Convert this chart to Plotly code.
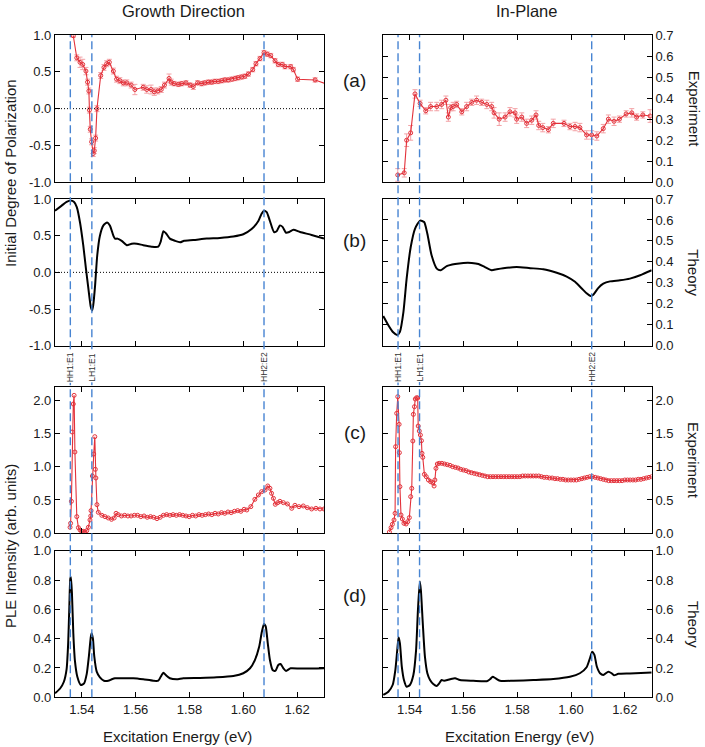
import plotly.graph_objects as go

# ---------------- data ----------------
transitions = [1.5357, 1.5437, 1.6077]
transition_labels = ["HH1:E1", "LH1:E1", "HH2:E2"]

x_ticks = [1.54, 1.56, 1.58, 1.60, 1.62]
x_tick_text = ["1.54", "1.56", "1.58", "1.60", "1.62"]

# (a) experiment, growth direction
ga_x = [1.5368, 1.5381, 1.5393, 1.5403, 1.5415, 1.5421, 1.5426, 1.5428, 1.5431, 1.5436,
        1.5442, 1.5446, 1.5451, 1.5456, 1.5470, 1.5482, 1.5492, 1.5502, 1.5517, 1.5529,
        1.5541, 1.5554, 1.5567, 1.5583, 1.5597, 1.5628, 1.5641, 1.5657, 1.5669, 1.5682,
        1.5695, 1.5707, 1.5724, 1.5732, 1.5743, 1.5759, 1.5771, 1.5787, 1.5802, 1.5814,
        1.5830, 1.5845, 1.5857, 1.5870, 1.5882, 1.5894, 1.5907, 1.5920, 1.5932, 1.5944,
        1.5957, 1.5970, 1.5981, 1.5994, 1.6006, 1.6019, 1.6035, 1.6047, 1.6062, 1.6077,
        1.6089, 1.6102, 1.6118, 1.6130, 1.6145, 1.6155, 1.6176, 1.6186, 1.6202, 1.6267, 1.6320]
ga_y = [0.99, 0.69, 0.63, 0.60, 0.51, 0.36, 0.24, -0.02, -0.28, -0.45,
        -0.61, -0.57, -0.40, 0.00, 0.45, 0.56, 0.61, 0.63, 0.51, 0.40,
        0.38, 0.35, 0.35, 0.32, 0.26, 0.29, 0.26, 0.26, 0.23, 0.24,
        0.26, 0.32, 0.41, 0.36, 0.34, 0.33, 0.34, 0.35, 0.32, 0.30,
        0.35, 0.34, 0.35, 0.36, 0.36, 0.37, 0.37, 0.38, 0.39, 0.39,
        0.40, 0.41, 0.42, 0.43, 0.44, 0.47, 0.53, 0.61, 0.68, 0.76,
        0.74, 0.72, 0.65, 0.60, 0.60, 0.57, 0.57, 0.53, 0.40, 0.39, 0.32]
ga_err = [0.02, 0.04, 0.07, 0.07, 0.05, 0.04, 0.04, 0.04, 0.04, 0.04,
          0.04, 0.04, 0.04, 0.04, 0.04, 0.04, 0.04, 0.04, 0.04, 0.04,
          0.04, 0.04, 0.04, 0.04, 0.07, 0.04, 0.05, 0.06, 0.05, 0.04,
          0.04, 0.04, 0.06, 0.04, 0.03, 0.03, 0.03, 0.03, 0.03, 0.04,
          0.03, 0.03, 0.03, 0.03, 0.03, 0.03, 0.03, 0.03, 0.03, 0.03,
          0.03, 0.03, 0.03, 0.03, 0.03, 0.03, 0.03, 0.03, 0.03, 0.03,
          0.03, 0.03, 0.03, 0.03, 0.03, 0.03, 0.03, 0.03, 0.03, 0.03, 0.03]

# (a) experiment, in-plane
pa_x = [1.5356, 1.5380, 1.5389, 1.5404, 1.5420, 1.5439, 1.5460, 1.5478, 1.5501, 1.5519,
        1.5535, 1.5544, 1.5553, 1.5562, 1.5575, 1.5594, 1.5612, 1.5631, 1.5649, 1.5668,
        1.5687, 1.5705, 1.5714, 1.5733, 1.5755, 1.5773, 1.5792, 1.5798, 1.5817, 1.5835,
        1.5854, 1.5870, 1.5880, 1.5895, 1.5916, 1.5934, 1.5974, 1.5996, 1.6015, 1.6033,
        1.6058, 1.6077, 1.6096, 1.6120, 1.6139, 1.6160, 1.6180, 1.6205, 1.6226, 1.6244,
        1.6267, 1.6294]
pa_y = [0.035, 0.045, 0.20, 0.235, 0.42, 0.375, 0.34, 0.36, 0.36, 0.37,
        0.39, 0.31, 0.355, 0.36, 0.37, 0.335, 0.36, 0.38, 0.39, 0.38,
        0.37, 0.36, 0.33, 0.30, 0.31, 0.335, 0.33, 0.30, 0.31, 0.28,
        0.295, 0.32, 0.27, 0.26, 0.25, 0.28, 0.28, 0.265, 0.265, 0.26,
        0.225, 0.225, 0.22, 0.255, 0.30, 0.29, 0.30, 0.325, 0.33, 0.31,
        0.32, 0.315]
pa_err = [0.03, 0.02, 0.03, 0.035, 0.02, 0.015, 0.015, 0.02, 0.02, 0.02,
          0.02, 0.02, 0.015, 0.02, 0.015, 0.015, 0.02, 0.015, 0.02, 0.015,
          0.02, 0.02, 0.025, 0.03, 0.02, 0.02, 0.02, 0.02, 0.02, 0.02,
          0.02, 0.02, 0.02, 0.02, 0.015, 0.02, 0.015, 0.015, 0.02, 0.02,
          0.02, 0.02, 0.02, 0.02, 0.02, 0.02, 0.015, 0.015, 0.02, 0.015,
          0.015, 0.03]

# (b) theory, growth direction
gb_x = [1.5300, 1.5325, 1.5343, 1.5358, 1.5371, 1.5381, 1.5393, 1.5405, 1.5415, 1.5424,
        1.5433, 1.5438, 1.5442, 1.5449, 1.5457, 1.5467, 1.5480, 1.5494, 1.5504, 1.5517,
        1.5523, 1.5532, 1.5548, 1.5567, 1.5585, 1.5604, 1.5628, 1.5659, 1.5684, 1.5693,
        1.5703, 1.5713, 1.5727, 1.5746, 1.5765, 1.5780, 1.5814, 1.5864, 1.5913, 1.5963,
        1.6000, 1.6031, 1.6056, 1.6068, 1.6077, 1.6087, 1.6099, 1.6114, 1.6124, 1.6136,
        1.6146, 1.6159, 1.6171, 1.6186, 1.6211, 1.6254, 1.6300]
gb_y = [0.84, 0.91, 0.96, 0.98, 0.96, 0.89, 0.68, 0.37, 0.05, -0.22,
        -0.47, -0.52, -0.45, -0.18, 0.23, 0.50, 0.64, 0.68, 0.64, 0.50,
        0.46, 0.46, 0.43, 0.37, 0.39, 0.39, 0.37, 0.35, 0.35, 0.42,
        0.56, 0.53, 0.46, 0.43, 0.41, 0.43, 0.44, 0.46, 0.47, 0.49,
        0.52, 0.59, 0.70, 0.80, 0.84, 0.82, 0.70, 0.55, 0.56, 0.64,
        0.62, 0.54, 0.55, 0.58, 0.55, 0.51, 0.46]

# (b) theory, in-plane
pb_x = [1.5302, 1.5321, 1.5339, 1.5354, 1.5364, 1.5377, 1.5389, 1.5404, 1.5420, 1.5439,
        1.5454, 1.5466, 1.5482, 1.5501, 1.5516, 1.5538, 1.5569, 1.5600, 1.5631, 1.5656,
        1.5680, 1.5705, 1.5724, 1.5748, 1.5798, 1.5848, 1.5897, 1.5947, 1.5984, 1.6015,
        1.6040, 1.6058, 1.6073, 1.6083, 1.6101, 1.6120, 1.6145, 1.6182, 1.6219, 1.6257, 1.6300]
pb_y = [0.142, 0.098, 0.064, 0.051, 0.066, 0.16, 0.32, 0.47, 0.558, 0.597,
        0.59, 0.534, 0.43, 0.368, 0.36, 0.38, 0.39, 0.395, 0.395, 0.39,
        0.375, 0.36, 0.365, 0.37, 0.375, 0.37, 0.365, 0.348, 0.33, 0.305,
        0.273, 0.25, 0.237, 0.243, 0.275, 0.296, 0.307, 0.312, 0.32, 0.336, 0.36]

# (c) PLE experiment, growth direction
gc_x = [1.5356, 1.5358, 1.5361, 1.5364, 1.5368, 1.5371, 1.5374, 1.5381, 1.5387, 1.5393,
        1.5399, 1.5405, 1.5411, 1.5418, 1.5424, 1.5430, 1.5433, 1.5434, 1.5439, 1.5444,
        1.5448, 1.5450, 1.5452, 1.5456, 1.5461, 1.5474, 1.5486, 1.5498, 1.5510, 1.5520,
        1.5527, 1.5535, 1.5547, 1.5559, 1.5571, 1.5583, 1.5595, 1.5607, 1.5619, 1.5631,
        1.5643, 1.5655, 1.5667, 1.5679, 1.5691, 1.5703, 1.5715, 1.5727, 1.5739, 1.5751,
        1.5763, 1.5775, 1.5787, 1.5799, 1.5811, 1.5823, 1.5835, 1.5847, 1.5859, 1.5871,
        1.5883, 1.5895, 1.5907, 1.5919, 1.5931, 1.5943, 1.5955, 1.5967, 1.5979, 1.5991,
        1.6003, 1.6013, 1.6028, 1.6043, 1.6056, 1.6068, 1.6081, 1.6091, 1.6099, 1.6105,
        1.6112, 1.6119, 1.6128, 1.6136, 1.6149, 1.6164, 1.6180, 1.6192, 1.6207, 1.6223,
        1.6238, 1.6254, 1.6270, 1.6285, 1.6300]
gc_y = [0.09, 0.15, 0.48, 1.52, 1.94, 2.07, 1.22, 0.25, 0.085, 0.05,
        0.03, 0.03, 0.02, 0.04, 0.09, 0.20, 0.26, 0.34, 0.86, 1.19,
        1.45, 0.96, 0.83, 0.43, 0.315, 0.27, 0.25, 0.23, 0.21, 0.23,
        0.30, 0.28, 0.26, 0.27, 0.26, 0.26, 0.27, 0.27, 0.25, 0.26,
        0.24, 0.25, 0.24, 0.22, 0.24, 0.27, 0.28, 0.27, 0.28, 0.27,
        0.28, 0.27, 0.26, 0.25, 0.27, 0.26, 0.28, 0.27, 0.28, 0.29,
        0.28, 0.30, 0.29, 0.31, 0.30, 0.32, 0.31, 0.33, 0.34, 0.33,
        0.36, 0.35, 0.40, 0.51, 0.575, 0.625, 0.65, 0.71, 0.675, 0.60,
        0.525, 0.435, 0.46, 0.48, 0.46, 0.44, 0.375, 0.42, 0.40, 0.41,
        0.385, 0.365, 0.375, 0.365, 0.365]

# (c) PLE experiment, in-plane
pc_x = [1.5325, 1.5331, 1.5336, 1.5342, 1.5346, 1.5348, 1.5352, 1.5356, 1.5361, 1.5362,
        1.5364, 1.5368, 1.5373, 1.5379, 1.5387, 1.5393, 1.5399, 1.5404, 1.5408, 1.5412,
        1.5414, 1.5418, 1.5421, 1.5426, 1.5430, 1.5432, 1.5436, 1.5440, 1.5444, 1.5446,
        1.5449, 1.5455, 1.5462, 1.5470, 1.5478, 1.5486, 1.5491, 1.5494, 1.5498, 1.5503,
        1.5510, 1.5520, 1.5530, 1.5540, 1.5550, 1.5560, 1.5570, 1.5580, 1.5590, 1.5600,
        1.5610, 1.5620, 1.5630, 1.5640, 1.5650, 1.5660, 1.5670, 1.5680, 1.5690, 1.5700,
        1.5710, 1.5720, 1.5730, 1.5740, 1.5750, 1.5760, 1.5770, 1.5780, 1.5790, 1.5800,
        1.5810, 1.5820, 1.5830, 1.5840, 1.5850, 1.5860, 1.5870, 1.5880, 1.5890, 1.5900,
        1.5910, 1.5920, 1.5930, 1.5940, 1.5950, 1.5960, 1.5970, 1.5980, 1.5990, 1.6000,
        1.6010, 1.6020, 1.6030, 1.6040, 1.6050, 1.6060, 1.6070, 1.6080, 1.6090, 1.6100,
        1.6110, 1.6120, 1.6130, 1.6140, 1.6150, 1.6160, 1.6170, 1.6180, 1.6190, 1.6200,
        1.6210, 1.6220, 1.6230, 1.6240, 1.6250, 1.6260, 1.6270, 1.6280, 1.6290, 1.6300]
pc_y = [0.02, 0.085, 0.135, 0.20, 0.30, 1.30, 1.80, 2.05, 1.635, 1.21,
        0.70, 0.275, 0.215, 0.15, 0.14, 0.175, 0.235, 0.55, 0.675, 1.385,
        1.785, 1.90, 2.015, 2.035, 2.03, 1.61, 1.535, 1.475, 1.39, 1.20,
        1.14, 0.885, 0.85, 0.80, 0.775, 0.76, 0.71, 0.80, 0.975, 1.04,
        1.05, 1.05, 1.04, 1.03, 1.02, 1.00, 0.99, 0.98, 0.96, 0.95,
        0.94, 0.92, 0.91, 0.90, 0.89, 0.88, 0.87, 0.86, 0.85, 0.85,
        0.85, 0.85, 0.85, 0.85, 0.85, 0.85, 0.85, 0.85, 0.85, 0.85,
        0.85, 0.86, 0.86, 0.86, 0.86, 0.86, 0.86, 0.86, 0.85, 0.84,
        0.84, 0.83, 0.83, 0.82, 0.82, 0.81, 0.81, 0.80, 0.80, 0.80,
        0.80, 0.80, 0.81, 0.82, 0.83, 0.84, 0.85, 0.85, 0.84, 0.83,
        0.82, 0.81, 0.80, 0.79, 0.79, 0.79, 0.79, 0.79, 0.79, 0.80,
        0.80, 0.80, 0.80, 0.80, 0.81, 0.81, 0.82, 0.83, 0.84, 0.85]

# (d) PLE theory, growth direction
gd_x = [1.5300, 1.5319, 1.5333, 1.5343, 1.5349, 1.5353, 1.5357, 1.5359, 1.5363, 1.5368,
        1.5374, 1.5383, 1.5396, 1.5408, 1.5418, 1.5426, 1.5433, 1.5436, 1.5441, 1.5446,
        1.5455, 1.5467, 1.5482, 1.5498, 1.5511, 1.5523, 1.5554, 1.5591, 1.5628, 1.5665,
        1.5684, 1.5693, 1.5703, 1.5713, 1.5727, 1.5752, 1.5777, 1.5839, 1.5901, 1.5963,
        1.6000, 1.6025, 1.6043, 1.6059, 1.6069, 1.6077, 1.6083, 1.6091, 1.6099, 1.6109,
        1.6119, 1.6130, 1.6139, 1.6149, 1.6159, 1.6176, 1.6211, 1.6260, 1.6300]
gd_y = [0.027, 0.06, 0.106, 0.19, 0.37, 0.60, 0.81, 0.82, 0.71, 0.44,
        0.25, 0.14, 0.084, 0.095, 0.16, 0.28, 0.41, 0.437, 0.40, 0.28,
        0.175, 0.136, 0.113, 0.113, 0.123, 0.13, 0.13, 0.13, 0.123, 0.113,
        0.113, 0.14, 0.168, 0.15, 0.13, 0.123, 0.13, 0.132, 0.136, 0.145,
        0.164, 0.198, 0.254, 0.345, 0.447, 0.50, 0.485, 0.368, 0.254, 0.186,
        0.18, 0.22, 0.227, 0.198, 0.18, 0.198, 0.196, 0.196, 0.198]

# (d) PLE theory, in-plane
pd_x = [1.5302, 1.5321, 1.5337, 1.5347, 1.5354, 1.5359, 1.5364, 1.5371, 1.5379, 1.5389,
        1.5401, 1.5414, 1.5424, 1.5431, 1.5438, 1.5442, 1.5449, 1.5457, 1.5466, 1.5476,
        1.5488, 1.5501, 1.5510, 1.5519, 1.5528, 1.5550, 1.5569, 1.5587, 1.5637, 1.5687,
        1.5699, 1.5709, 1.5719, 1.5736, 1.5786, 1.5860, 1.5934, 1.5996, 1.6033, 1.6058,
        1.6071, 1.6079, 1.6087, 1.6096, 1.6108, 1.6120, 1.6139, 1.6151, 1.6160, 1.6176,
        1.6219, 1.6300]
pd_y = [0.016, 0.038, 0.084, 0.186, 0.32, 0.41, 0.368, 0.209, 0.118, 0.072,
        0.084, 0.152, 0.32, 0.595, 0.79, 0.73, 0.505, 0.277, 0.164, 0.118,
        0.091, 0.077, 0.095, 0.118, 0.113, 0.123, 0.13, 0.118, 0.113, 0.11,
        0.123, 0.14, 0.13, 0.113, 0.113, 0.118, 0.125, 0.14, 0.164, 0.205,
        0.27, 0.311, 0.29, 0.21, 0.164, 0.152, 0.175, 0.164, 0.15, 0.16,
        0.163, 0.17]

# ---------------- layout geometry (pixels) ----------------
W, H = 705, 747
COLX = {"L": (55, 324), "R": (382.7, 651.7)}
ROWY = {"a": (35.0, 182.3), "b": (199.0, 345.7), "c": (386.7, 533.3), "d": (550.7, 697.3)}


def xdom(c):
    a, b = COLX[c]
    return [a / W, b / W]


def ydom(r):
    a, b = ROWY[r]
    return [1 - b / H, 1 - a / H]


def axref(letter, n):
    return letter if n == 1 else f"{letter}{n}"


RED = "#e3313a"
ERR = "#f3a2a6"
BLUE = "#4784d2"
FONT = "Liberation Sans, Arial, Helvetica, sans-serif"
tickfont = dict(family=FONT, size=13, color="#1a1a1a")

fig = go.Figure()


def exp_trace(x, y, n, err=None):
    tr = go.Scatter(x=x, y=y, mode="lines+markers", xaxis=axref("x", n), yaxis=axref("y", n),
                    line=dict(color=RED, width=1.1),
                    marker=dict(symbol="circle-open", size=4, color=RED, line=dict(width=1, color=RED)),
                    showlegend=False, hoverinfo="skip")
    if err is not None:
        tr.error_y = dict(type="data", array=err, visible=True, color=ERR, thickness=1, width=2.5)
    return tr


def th_trace(x, y, n):
    return go.Scatter(x=x, y=y, mode="lines", xaxis=axref("x", n), yaxis=axref("y", n),
                      line=dict(color="black", width=2, shape="spline", smoothing=0.6),
                      showlegend=False, hoverinfo="skip")


fig.add_trace(exp_trace(ga_x, ga_y, 1, ga_err))
fig.add_trace(exp_trace(pa_x, pa_y, 2, pa_err))
fig.add_trace(th_trace(gb_x, gb_y, 3))
fig.add_trace(th_trace(pb_x, pb_y, 4))
fig.add_trace(exp_trace(gc_x, gc_y, 5))
fig.add_trace(exp_trace(pc_x, pc_y, 6))
fig.add_trace(th_trace(gd_x, gd_y, 7))
fig.add_trace(th_trace(pd_x, pd_y, 8))

panels = [("a", "L"), ("a", "R"), ("b", "L"), ("b", "R"),
          ("c", "L"), ("c", "R"), ("d", "L"), ("d", "R")]

y_specs = {
    "pol": ([-1.0, -0.5, 0.0, 0.5, 1.0], ["-1.0", "-0.5", "0.0", "0.5", "1.0"], [-1, 1]),
    "ip": ([0.0, 0.1, 0.2, 0.3, 0.4, 0.5, 0.6, 0.7],
           ["0.0", "0.1", "0.2", "0.3", "0.4", "0.5", "0.6", "0.7"], [0, 0.7]),
    "ple_e": ([0.0, 0.5, 1.0, 1.5, 2.0], ["0.0", "0.5", "1.0", "1.5", "2.0"], [0, 2.2]),
    "ple_t": ([0.0, 0.2, 0.4, 0.6, 0.8, 1.0], ["0.0", "0.2", "0.4", "0.6", "0.8", "1.0"], [0, 1.0]),
}
spec_for = ["pol", "ip", "pol", "ip", "ple_e", "ple_e", "ple_t", "ple_t"]

layout = dict(width=W, height=H, margin=dict(l=0, r=0, t=0, b=0, autoexpand=False),
              paper_bgcolor="white", plot_bgcolor="white", showlegend=False)

for i, (r, c) in enumerate(panels):
    n = i + 1
    key_x = "xaxis" if n == 1 else f"xaxis{n}"
    key_y = "yaxis" if n == 1 else f"yaxis{n}"
    layout[key_x] = dict(domain=xdom(c), anchor=axref("y", n), range=[1.53, 1.63],
                         tickmode="array", tickvals=x_ticks, ticktext=x_tick_text,
                         showticklabels=(r == "d"), ticks="inside", ticklen=5, tickwidth=1,
                         tickcolor="black", showline=True, linecolor="black", linewidth=1.2,
                         mirror="ticks", showgrid=False, zeroline=False, tickfont=tickfont,
                         automargin=False)
    tv, tt, rng = y_specs[spec_for[i]]
    layout[key_y] = dict(domain=ydom(r), anchor=axref("x", n), range=rng,
                         tickmode="array", tickvals=tv, ticktext=tt,
                         side="left" if c == "L" else "right",
                         ticks="inside", ticklen=5, tickwidth=1, tickcolor="black",
                         showline=True, linecolor="black", linewidth=1.2, mirror="ticks",
                         showgrid=False, zeroline=False, tickfont=tickfont, automargin=False)

fig.update_layout(**layout)

# dotted zero lines in polarization panels (growth direction)
for n in (1, 3):
    fig.add_shape(type="line", xref=axref("x", n) + " domain", yref=axref("y", n),
                  x0=0, x1=1, y0=0, y1=0,
                  line=dict(color="black", width=1, dash="1px,2px"))

# dashed transition lines spanning each column
ytop = 1 - ROWY["a"][0] / H
ybot = 1 - ROWY["d"][1] / H
for xr in ("x7", "x8"):
    for e in transitions:
        fig.add_shape(type="line", xref=xr, yref="paper", x0=e, x1=e, y0=ybot, y1=ytop,
                      line=dict(color=BLUE, width=1.4, dash="8px,4px"))

annotations = []
# transition labels
for xr in ("x7", "x8"):
    for e, lab in zip(transitions, transition_labels):
        annotations.append(dict(text=lab, xref=xr, yref="paper", x=e, y=1 - 367 / H,
                                textangle=-90, showarrow=False, bgcolor="white",
                                font=dict(family=FONT, size=8.5, color="#333333"),
                                xanchor="center", yanchor="middle", borderpad=0))

# panel letters
for lab, py in (("(a)", 80), ("(b)", 240), ("(c)", 432), ("(d)", 595)):
    annotations.append(dict(text=lab, xref="paper", yref="paper", x=355 / W, y=1 - py / H,
                            showarrow=False, font=dict(family=FONT, size=19, color="#1a1a1a"),
                            xanchor="center", yanchor="middle"))

# column titles
annotations.append(dict(text="Growth Direction", xref="paper", yref="paper", x=183 / W, y=1 - 11 / H,
                        showarrow=False, font=dict(family=FONT, size=16.5, color="#1a1a1a"),
                        xanchor="center", yanchor="middle"))
annotations.append(dict(text="In-Plane", xref="paper", yref="paper", x=526 / W, y=1 - 11 / H,
                        showarrow=False, font=dict(family=FONT, size=16.5, color="#1a1a1a"),
                        xanchor="center", yanchor="middle"))

# left y titles
annotations.append(dict(text="Initial Degree of Polarization", xref="paper", yref="paper",
                        x=10 / W, y=1 - 173 / H, textangle=-90, showarrow=False,
                        font=dict(family=FONT, size=15, color="#1a1a1a"),
                        xanchor="center", yanchor="middle"))
annotations.append(dict(text="PLE Intensity (arb. units)", xref="paper", yref="paper",
                        x=10 / W, y=1 - 546 / H, textangle=-90, showarrow=False,
                        font=dict(family=FONT, size=15, color="#1a1a1a"),
                        xanchor="center", yanchor="middle"))

# right titles
for lab, r in (("Experiment", "a"), ("Theory", "b"), ("Experiment", "c"), ("Theory", "d")):
    a, b = ROWY[r]
    annotations.append(dict(text=lab, xref="paper", yref="paper", x=694 / W, y=1 - (a + b) / 2 / H,
                            textangle=90, showarrow=False,
                            font=dict(family=FONT, size=15, color="#1a1a1a"),
                            xanchor="center", yanchor="middle"))

# x titles
for xc in (177.5, 519):
    annotations.append(dict(text="Excitation Energy (eV)", xref="paper", yref="paper",
                            x=xc / W, y=1 - 736 / H, showarrow=False,
                            font=dict(family=FONT, size=15, color="#1a1a1a"),
                            xanchor="center", yanchor="middle"))

fig.update_layout(annotations=annotations)

fig.write_html("out.html", config={"displayModeBar": False},
               post_script="document.body.style.margin='0px';document.body.style.overflow='hidden';")
